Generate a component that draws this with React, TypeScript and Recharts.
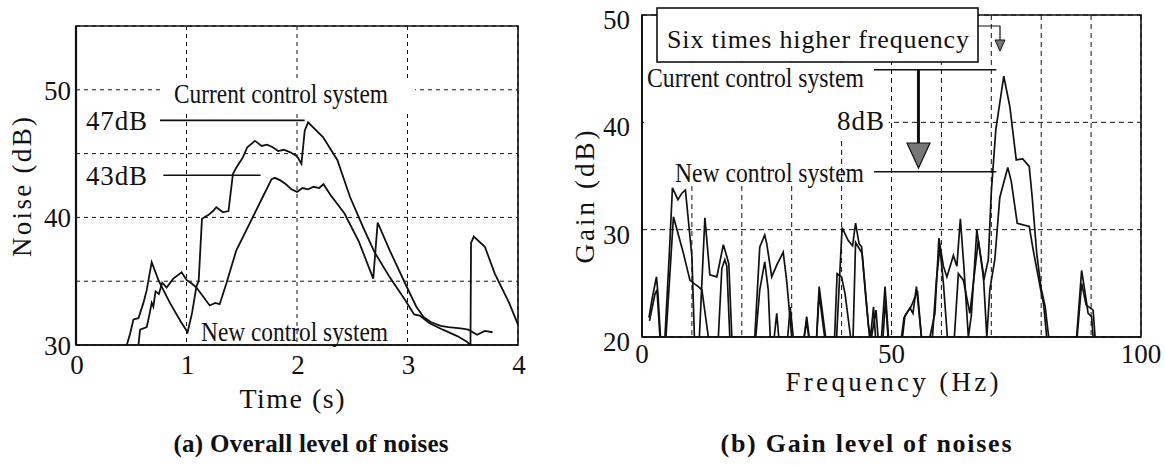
import React from 'react';
import { LineChart, Line, XAxis, YAxis, CartesianGrid, ReferenceLine, ReferenceArea } from 'recharts';

const FONT = '"Liberation Serif","Times New Roman",Times,serif';
const INK = '#111';

// ---------- axes ----------
const timeTicks = [0, 1, 2, 3, 4];
const noiseTicks = [30, 35, 40, 45, 50, 55];
const noiseLabelled = [30, 40, 50];
const freqTicks = [0, 10, 20, 30, 40, 50, 60, 70, 80, 90, 100];
const freqLabelled = [0, 50, 100];
const gainTicks = [20, 30, 40, 50];

// ---------- (a) overall noise level: [time s, noise dB] ----------
const currentNoise: [number, number][] = [
  [0.46, 30], [0.49, 30.9], [0.52, 32.0], [0.565, 32.1], [0.61, 33.3], [0.64, 34.3], [0.685, 36.5],
  [0.75, 35.0], [0.85, 33.3], [0.95, 31.8], [1.01, 31.0], [1.05, 32.5], [1.09, 34.6], [1.11, 35.0],
  [1.14, 39.9], [1.2, 40.2], [1.24, 40.5], [1.27, 40.8], [1.33, 40.4], [1.38, 40.5], [1.42, 43.4],
  [1.45, 43.9], [1.51, 44.7], [1.55, 45.5], [1.62, 46.0], [1.68, 45.6], [1.73, 45.7], [1.78, 45.5],
  [1.83, 45.2], [1.88, 45.3], [1.94, 45.1], [2.0, 44.8], [2.04, 44.2], [2.07, 46.8], [2.1, 47.45],
  [2.235, 46.3], [2.365, 44.5], [2.48, 41.6], [2.6, 39.2], [2.7, 37.3], [2.84, 35.3], [2.98, 33.5],
  [3.06, 32.4], [3.11, 32.3], [3.2, 31.7], [3.32, 31.2], [3.45, 30.7], [3.53, 30.3], [3.57, 30.0],
  [3.575, 38.0], [3.6, 38.5], [3.7, 37.7], [3.79, 35.6], [3.92, 33.3], [4.0, 31.6],
];
const newNoise: [number, number][] = [
  [0.565, 30], [0.58, 31.2], [0.64, 31.4], [0.665, 32.4], [0.685, 33.3], [0.7, 33.0], [0.72, 34.2],
  [0.75, 34.0], [0.78, 34.9], [0.82, 34.5], [0.88, 35.2], [0.956, 35.7], [1.0, 35.1], [1.05, 34.8],
  [1.09, 34.5], [1.15, 33.8], [1.21, 33.1], [1.26, 33.3], [1.3, 33.2], [1.36, 34.8], [1.45, 37.4],
  [1.57, 39.5], [1.69, 41.6], [1.77, 43.0], [1.8, 43.1], [1.85, 42.9], [1.9, 42.6], [1.95, 42.2],
  [2.0, 42.0], [2.05, 42.3], [2.1, 42.2], [2.15, 42.4], [2.2, 42.3], [2.24, 42.6], [2.3, 41.8],
  [2.43, 40.3], [2.56, 38.1], [2.69, 35.2], [2.73, 39.6], [2.84, 37.4], [2.98, 34.8], [3.08, 33.0],
  [3.145, 32.2], [3.21, 31.8], [3.3, 31.5], [3.37, 31.4], [3.48, 31.3], [3.55, 31.2], [3.63, 30.8],
  [3.7, 31.1], [3.77, 31.0],
];

// ---------- (b) gain spectrum: [frequency Hz, gain dB] ----------
const currentGain: [number, number][] = [
  [1.4, 21.8], [2.0, 23.5], [2.9, 25.6], [3.2, 24.0], [3.7, 20], [4.6, 20], [5.5, 28], [6.1, 33.9],
  [7.2, 32.8], [8.0, 33.4], [8.7, 33.7], [10.0, 27.5], [10.5, 20], [11.5, 20], [12.6, 31.1],
  [13.6, 25.8], [15.0, 25.6], [16.3, 28.6], [17.0, 27.5], [17.4, 26.8], [18.0, 20], [22.6, 20],
  [23.6, 28.4], [24.6, 29.5], [25.0, 28.7], [26.0, 25.6], [27.0, 26.7], [28.3, 27.9], [29.0, 25.2],
  [30.0, 20], [32.5, 20], [33.0, 21.9], [33.5, 20], [35.0, 20], [35.5, 24.7], [36.8, 20], [39.0, 20],
  [40.1, 30.2], [41.3, 29.0], [42.2, 28.5], [42.8, 30.6], [43.5, 28.7], [44.0, 28.4], [45.4, 21],
  [45.8, 20], [46.4, 22.8], [46.8, 20], [48.0, 20], [48.7, 24.7], [49.4, 20], [52.0, 20], [52.5, 21.8],
  [53.7, 22.7], [54.3, 22.2], [55.0, 24.7], [56.0, 20], [57.7, 20], [58.7, 22.2], [59.5, 29.2],
  [60.4, 26.6], [61.1, 25.6], [62.4, 27.6], [63.1, 26.6], [63.8, 31.0], [64.5, 26.6], [65.4, 20],
  [66.0, 22], [67.1, 30.0], [68.5, 25.3], [69.4, 27.2], [70.0, 33.5], [70.9, 39.3], [72.5, 44.3],
  [73.7, 41.5], [75.0, 36.5], [76.3, 36.6], [77.6, 35.9], [78.2, 33], [79.1, 27.8], [80.0, 24.5],
  [80.8, 22.8], [81.5, 20], [87.1, 20], [88.1, 26.2], [88.8, 24.1], [89.4, 22.2], [90.1, 21.9], [90.4, 20],
];
const newGain: [number, number][] = [
  [1.5, 21.5], [2.6, 24.0], [3.0, 24.4], [3.6, 20], [4.8, 20], [6.3, 31.2], [8.3, 27.8], [9.6, 25.3],
  [10.4, 25.0], [11.3, 24.7], [12.0, 24.4], [13.3, 20], [15.3, 20], [16.0, 26.4], [16.6, 27.2],
  [17.0, 26.6], [17.6, 20], [22.8, 20], [23.6, 24.4], [24.6, 27.0], [25.3, 24.4], [25.7, 20], [26.5, 20],
  [27.0, 22.2], [27.4, 20], [29.2, 20], [29.7, 22.8], [30.3, 20], [32.5, 20], [33.0, 21.5], [33.4, 20],
  [35.0, 20], [35.5, 24.0], [36.6, 20], [38.6, 20], [39.1, 25.9], [40.0, 25.6], [40.7, 24.0], [41.8, 20],
  [42.3, 20], [42.8, 28.8], [44.1, 27.8], [44.9, 23.4], [45.6, 20], [46.0, 20], [46.9, 22.5], [47.3, 20],
  [48.3, 20], [48.8, 23.5], [49.3, 20], [52.2, 20], [52.7, 22], [53.9, 22.8], [55.2, 24.3], [56.0, 20],
  [58.2, 20], [59.0, 25.3], [59.7, 28.4], [60.4, 25.0], [61.2, 20], [62.6, 20], [63.4, 25.9],
  [64.4, 25.3], [65.7, 22.2], [67.4, 29.0], [68.4, 25.9], [69.1, 20], [69.7, 24.4], [70.7, 27.2],
  [71.7, 33.0], [73.3, 35.8], [74.0, 34.5], [75.2, 30.6], [77.6, 30.3], [78.4, 28.1], [79.9, 24.4],
  [80.5, 23.0], [81.1, 20], [87.2, 20], [88.1, 25.0], [89.0, 23.0], [90.4, 22.5], [90.8, 20],
];

// annotation levels (dB)
const peakCurrentLevel = 47.6;
const peakNewLevel = 43.3;
const gainCurrentLevel = 44.9;
const gainNewLevel = 35.4;

const pts = (a: [number, number][]) => a.map(([x, y]) => ({ x, y }));

const makeTick = (labelled: number[] | null, dx: number, dy: number, anchor: string) => (props: any) => {
  const { x, y, payload } = props;
  if (labelled && !labelled.includes(payload.value)) return <g />;
  return (
    <text x={x + dx} y={y + dy} textAnchor={anchor} fontFamily={FONT} fontSize={27} fill={INK}>
      {payload.value}
    </text>
  );
};

const T = ({ x, y, len, size = 27, anchor = 'start', bold = false, children, rotate, squeeze = false }: any) => (
  <text
    x={rotate ? 0 : x}
    y={rotate ? 0 : y}
    transform={rotate ? `translate(${x},${y}) rotate(-90)` : undefined}
    textAnchor={anchor}
    fontFamily={FONT}
    fontSize={size}
    fontWeight={bold ? 'bold' : 'normal'}
    fill={INK}
    textLength={len}
    lengthAdjust={squeeze ? 'spacingAndGlyphs' : 'spacing'}
  >
    {children}
  </text>
);

export default function App() {
  return (
    <div style={{ position: 'absolute', left: 0, top: 0, width: 1165, height: 467, background: '#fff', overflow: 'hidden' }}>
      {/* (a) */}
      <div style={{ position: 'absolute', left: 0, top: 0 }}>
        <LineChart width={560} height={467} margin={{ top: 26, right: 42, bottom: 92, left: 16 }}>
          <CartesianGrid stroke={INK} strokeDasharray="4 4" strokeWidth={1} />
          <XAxis type="number" dataKey="x" domain={[0, 4]} ticks={timeTicks} interval={0} allowDataOverflow
            height={30} tickSize={0} tickMargin={0} tickLine={false} axisLine={{ stroke: INK, strokeWidth: 1.6 }}
            tick={makeTick(null, 1, 29, 'middle')} />
          <YAxis type="number" domain={[30, 55]} ticks={noiseTicks} interval={0} allowDataOverflow
            width={60} tickSize={0} tickMargin={0} tickLine={false} axisLine={{ stroke: INK, strokeWidth: 2.2 }}
            tick={makeTick(noiseLabelled, -5, 10, 'end')} />
          <ReferenceArea x1={0} x2={4} y1={30} y2={55} fill="none" stroke={INK} strokeWidth={1.6} ifOverflow="visible" />
          <ReferenceLine segment={[{ x: 0.76, y: peakCurrentLevel }, { x: 2.07, y: peakCurrentLevel }]} stroke={INK} strokeWidth={1.6} />
          <ReferenceLine segment={[{ x: 0.79, y: peakNewLevel }, { x: 1.67, y: peakNewLevel }]} stroke={INK} strokeWidth={1.6} />
          <Line data={pts(currentNoise)} dataKey="y" type="linear" stroke={INK} strokeWidth={1.8} dot={false} isAnimationActive={false} />
          <Line data={pts(newNoise)} dataKey="y" type="linear" stroke={INK} strokeWidth={1.8} dot={false} isAnimationActive={false} />
        </LineChart>
      </div>

      {/* (b) */}
      <div style={{ position: 'absolute', left: 560, top: 0 }}>
        <LineChart width={605} height={467} margin={{ top: 15, right: 24, bottom: 100, left: 12 }}>
          <CartesianGrid stroke={INK} strokeDasharray="5 4" strokeWidth={1} />
          <XAxis type="number" dataKey="x" domain={[0, 100]} ticks={freqTicks} interval={0} allowDataOverflow
            height={30} tickSize={0} tickMargin={0} tickLine={false} axisLine={{ stroke: INK, strokeWidth: 1.6 }}
            tick={makeTick(freqLabelled, 0, 26, 'middle')} />
          <YAxis type="number" domain={[20, 50]} ticks={gainTicks} interval={0} allowDataOverflow
            width={70} tickSize={0} tickMargin={0} tickLine={false} axisLine={{ stroke: INK, strokeWidth: 1.8 }}
            tick={makeTick(null, -12, 14, 'end')} />
          <ReferenceArea x1={0} x2={100} y1={20} y2={50} fill="none" stroke={INK} strokeWidth={1.6} ifOverflow="visible" />
          <ReferenceLine segment={[{ x: 46.5, y: gainCurrentLevel }, { x: 71, y: gainCurrentLevel }]} stroke={INK} strokeWidth={1.6} />
          <ReferenceLine segment={[{ x: 46.5, y: gainNewLevel }, { x: 71, y: gainNewLevel }]} stroke={INK} strokeWidth={1.6} />
          <ReferenceLine segment={[{ x: 55.4, y: gainCurrentLevel }, { x: 55.4, y: 38.0 }]} stroke={INK} strokeWidth={3} />
          <Line data={pts(currentGain)} dataKey="y" type="linear" stroke={INK} strokeWidth={1.7} dot={false} isAnimationActive={false} />
          <Line data={pts(newGain)} dataKey="y" type="linear" stroke={INK} strokeWidth={1.7} dot={false} isAnimationActive={false} />
        </LineChart>
      </div>

      {/* annotations */}
      <svg width={1165} height={467} style={{ position: 'absolute', left: 0, top: 0 }}>
        {/* text backgrounds */}
        <rect x={160} y={78} width={255} height={32} fill="#fff" />
        <rect x={644} y={63} width={228} height={77} fill="#fff" />
        <rect x={872} y={76} width={17} height={64} fill="#fff" />
        <rect x={644} y={140} width={191} height={45} fill="#fff" />

        <T x={174} y={103} len={214} size={28} squeeze>Current control system</T>
        <T x={86} y={130} len={61}>47dB</T>
        <T x={86} y={185} len={61}>43dB</T>
        <T x={201} y={341} len={187} size={28} squeeze>New control system</T>

        <rect x={657} y={8} width={321} height={54} fill="#fff" stroke={INK} strokeWidth={1.6} />
        <T x={667} y={48} len={302} size={26}>Six times higher frequency</T>
        <polyline points="978,26 1000,26 1000,41" fill="none" stroke={INK} strokeWidth={1.2} />
        <polygon points="995,40 1005,40 1000,51" fill="#777" stroke={INK} strokeWidth={1} />
        <T x={647} y={87} len={217} size={28} squeeze>Current control system</T>
        <T x={837} y={130} len={47}>8dB</T>
        <T x={675} y={182} len={189} size={28} squeeze>New control system</T>
        <polygon points="907,143 930,143 918.5,168" fill="#777" stroke={INK} strokeWidth={1.2} />

        <T x={31} y={187} len={140} size={27} anchor="middle" rotate>Noise (dB)</T>
        <T x={594} y={197} len={133} size={27} anchor="middle" rotate>Gain (dB)</T>
        <T x={292} y={408} len={105} size={28} anchor="middle">Time (s)</T>
        <T x={892} y={391} len={213} size={27} anchor="middle">Frequency (Hz)</T>

        <T x={311} y={452} len={275} size={25} anchor="middle" bold>(a) Overall level of noises</T>
        <T x={866} y={452} len={291} size={26} anchor="middle" bold>(b) Gain level of noises</T>
      </svg>
    </div>
  );
}
